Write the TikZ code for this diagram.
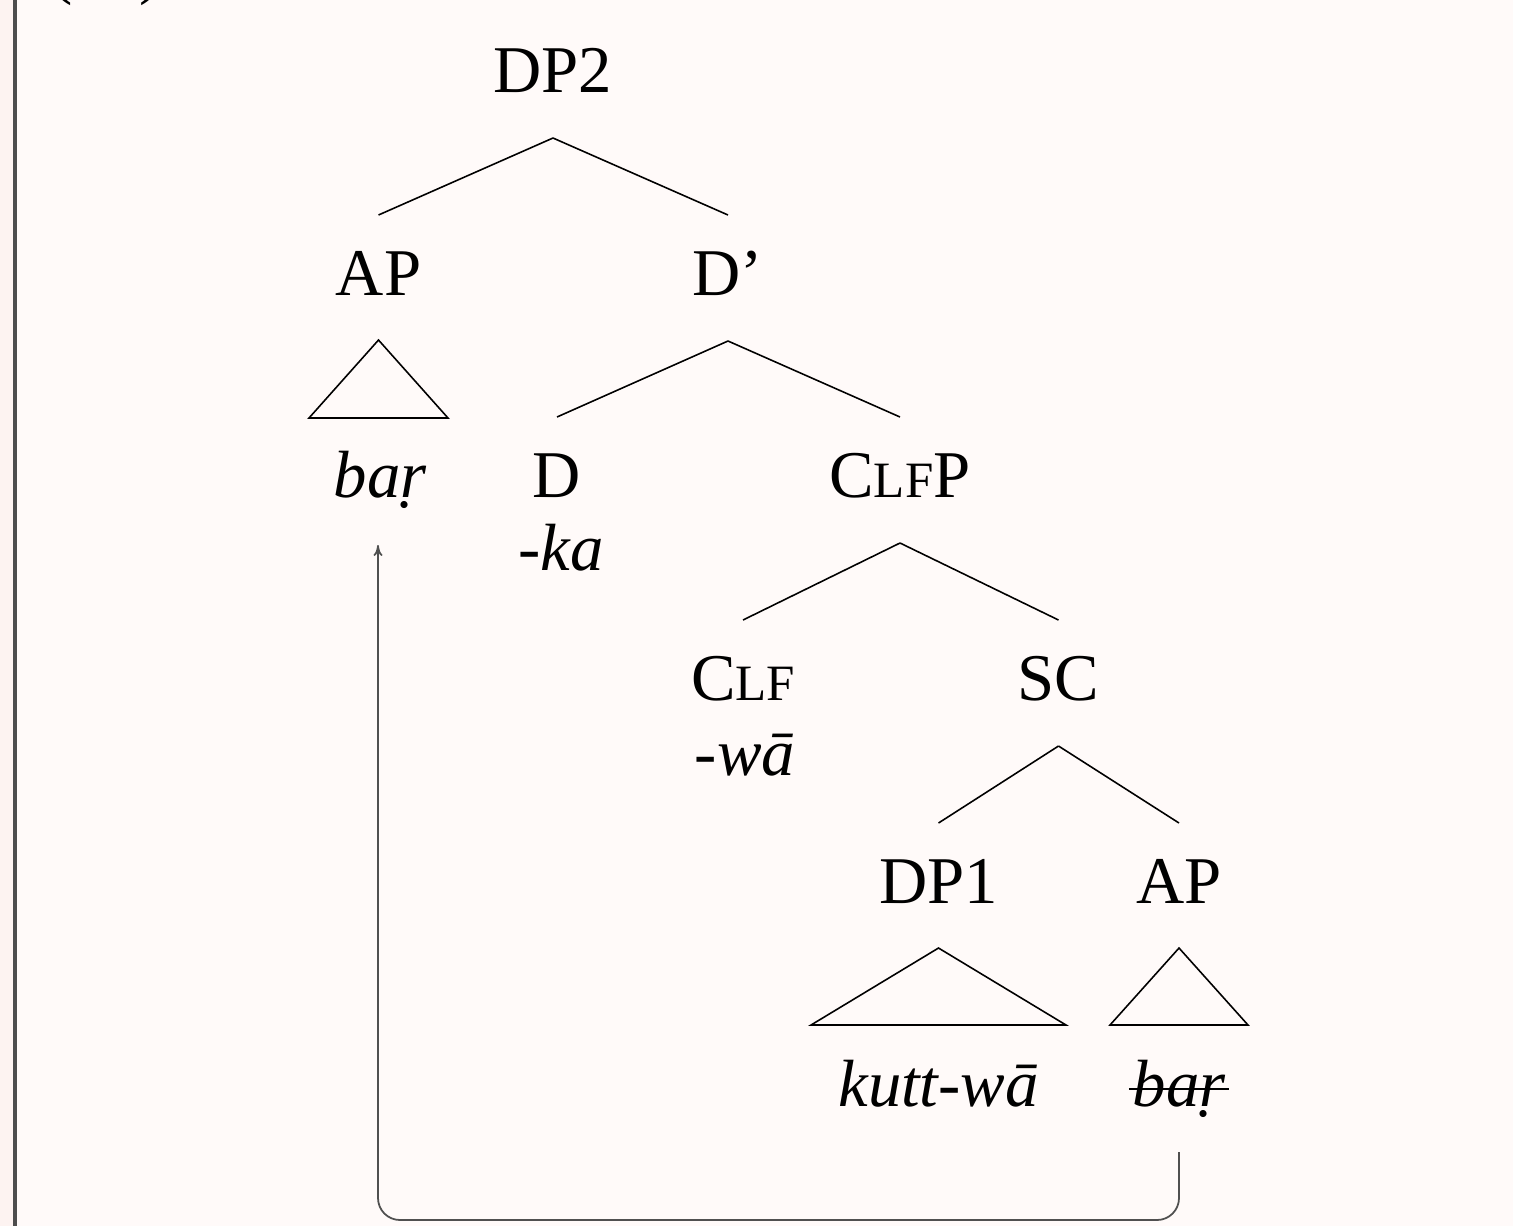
\documentclass[tikz,border=0pt]{standalone}
\usepackage{fontspec}
\setmainfont{Liberation Serif}
\usepackage{tikz}
\usetikzlibrary{positioning,arrows.meta}

\definecolor{pagebg}{RGB}{255,250,249}
\definecolor{marginbg}{RGB}{253,243,241}
\definecolor{rulegray}{RGB}{77,77,77}
\definecolor{movegray}{RGB}{80,80,80}

\newcommand{\fsc}[2]{#1{\fontsize{14.5}{17}\selectfont #2}}

\begin{document}
\begin{tikzpicture}[
    cat/.style={anchor=base, inner sep=0pt, font=\fontsize{19}{23}\selectfont},
    word/.style={cat, font=\fontsize{19}{23}\selectfont\itshape},
    branch/.style={line width=0.45pt},
    move/.style={draw=movegray, line width=0.5pt, rounded corners=2.2mm,
      -{To[length=1.1mm,width=0.9mm]}}]
  % page, margin rule and example number
  \useasboundingbox (0,0) rectangle (15.13,-12.26);
  \fill[pagebg] (0,0) rectangle (15.13,-12.26);
  \fill[marginbg] (0,0) rectangle (0.135,-12.26);
  \fill[rulegray] (0.135,0) rectangle (0.173,-12.26);
  \begin{scope}
    \clip (0,0) rectangle (15.13,-12.26);
    \node[cat] (exNum) at (1.06,0.09) {(\hphantom{00})};
  \end{scope}

  % categories
  \node[cat] (dpTwo) at (5.53,-0.92) {DP2};
  \node[cat] (apHigh) at (3.785,-2.95) {AP};
  \node[cat] (dBar) at (7.28,-2.95) {D'};
  \node[word] (barHigh) at (3.80,-4.97) {ba\d{r}};
  \node[cat] (dHead) at (5.57,-4.97) {D};
  \node[word] (ka) at (5.61,-5.70) {-ka};
  \node[cat] (clfP) at (9.00,-4.97) {\fsc{C}{LF}P};
  \node[cat] (clf) at (7.43,-7.00) {\fsc{C}{LF}};
  \node[word] (wa) at (7.45,-7.75) {-wā};
  \node[cat] (sc) at (10.585,-7.00) {SC};
  \node[cat] (dpOne) at (9.385,-9.03) {DP1};
  \node[cat] (apLow) at (11.79,-9.03) {AP};
  \node[word] (kutta) at (9.385,-11.06) {kutt-wā};
  \node[word] (barLow) at (11.79,-11.06) {ba\d{r}};
  \draw[line width=0.5pt] ([xshift=-0.3mm,yshift=1.7mm]barLow.base west)
    -- ([xshift=0.3mm,yshift=1.7mm]barLow.base east);

  % branches
  \draw[branch] ([yshift=-4.6mm]dpTwo.base) -- ([yshift=8mm]apHigh.base);
  \draw[branch] ([yshift=-4.6mm]dpTwo.base) -- ([yshift=8mm]dBar.base);
  \draw[branch] ([yshift=-4.6mm]dBar.base) -- ([yshift=8mm]dHead.base);
  \draw[branch] ([yshift=-4.6mm]dBar.base) -- ([yshift=8mm]clfP.base);
  \draw[branch] ([yshift=-4.6mm]clfP.base) -- ([yshift=8mm]clf.base);
  \draw[branch] ([yshift=-4.6mm]clfP.base) -- ([yshift=8mm]sc.base);
  \draw[branch] ([yshift=-4.6mm]sc.base) -- ([yshift=8mm]dpOne.base);
  \draw[branch] ([yshift=-4.6mm]sc.base) -- ([yshift=8mm]apLow.base);

  % roofs
  \draw[branch] ([yshift=-4.5mm]apHigh.base) -- ([xshift=-6.95mm,yshift=-12.3mm]apHigh.base)
    -- ([xshift=6.95mm,yshift=-12.3mm]apHigh.base) -- cycle;
  \draw[branch] ([yshift=-4.5mm]dpOne.base) -- ([xshift=-12.75mm,yshift=-12.2mm]dpOne.base)
    -- ([xshift=12.75mm,yshift=-12.2mm]dpOne.base) -- cycle;
  \draw[branch] ([yshift=-4.5mm]apLow.base) -- ([xshift=-6.9mm,yshift=-12.2mm]apLow.base)
    -- ([xshift=6.9mm,yshift=-12.2mm]apLow.base) -- cycle;

  % movement
  \draw[move] ([yshift=-4.6mm]barLow.base) -- ++(0,-6.8mm)
    -| ([xshift=-0.2mm,yshift=-4.8mm]barHigh.base);
\end{tikzpicture}
\end{document}
